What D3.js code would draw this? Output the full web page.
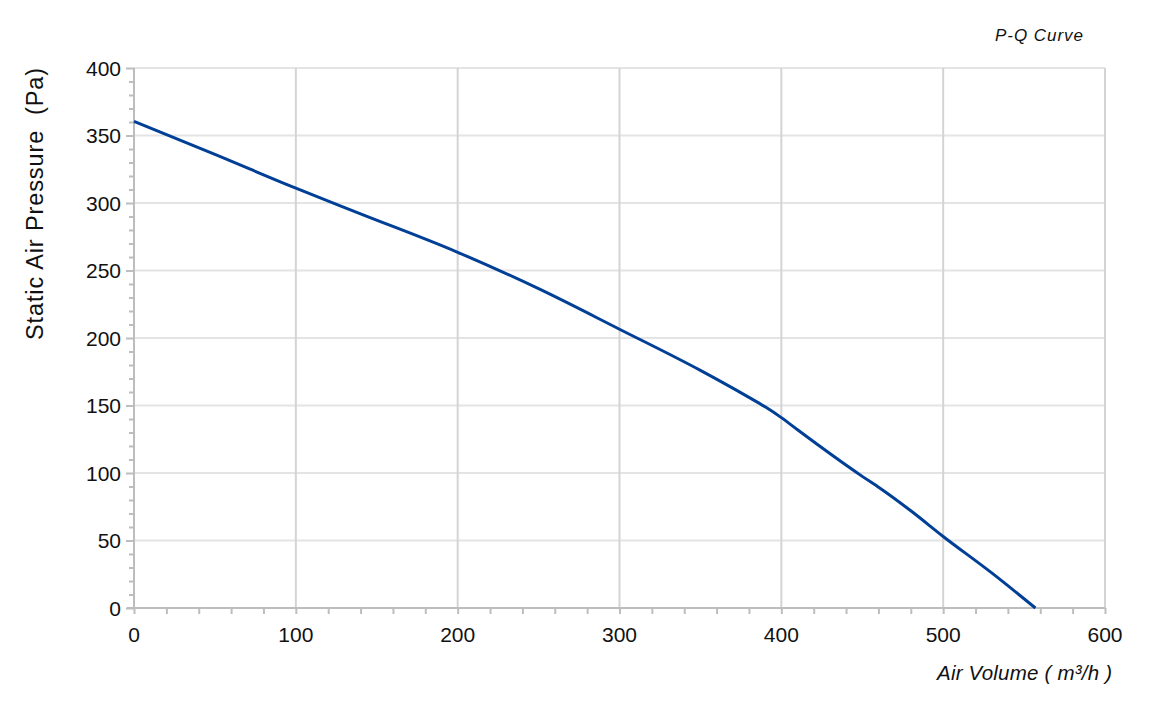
<!DOCTYPE html>
<html><head><meta charset="utf-8">
<script src="https://cdn.jsdelivr.net/npm/d3@7"></script>
<style>body{margin:0;background:#fff;} text{font-family:"Liberation Sans",Arial,sans-serif;}</style>
</head><body>
<svg id="c" width="1156" height="705"></svg>
<script>
const airVolume = [0, 50, 100, 140, 200, 250, 300, 350, 380, 390, 400, 410, 450, 461, 480, 500, 530, 557];
const pressure  = [360.5, 336, 311, 292, 263.5, 236.5, 206.5, 176, 156, 149, 141, 132, 97.5, 88.7, 72, 53, 26, 0];
const xTicks = [0, 100, 200, 300, 400, 500, 600];
const yTicks = [0, 50, 100, 150, 200, 250, 300, 350, 400];
const titleText = "P-Q Curve";
const xTitle = "Air Volume ( m³/h )";
const yTitle = "Static Air Pressure  (Pa)";

const svg = d3.select("#c");
const L = 134, R = 1105, T = 68, B = 608;
const x = d3.scaleLinear().domain([0, 600]).range([L, R]);
const y = d3.scaleLinear().domain([0, 400]).range([B, T]);

// horizontal gridlines
svg.append("g").selectAll("line").data(yTicks.filter(d => d > 0)).join("line")
  .attr("x1", L).attr("x2", R).attr("y1", d => y(d)).attr("y2", d => y(d))
  .attr("stroke", "#e4e4e4").attr("stroke-width", 2);
// vertical gridlines
svg.append("g").selectAll("line").data(xTicks.filter(d => d > 0)).join("line")
  .attr("x1", d => x(d)).attr("x2", d => x(d)).attr("y1", T).attr("y2", B)
  .attr("stroke", "#d4d4d4").attr("stroke-width", 2);

// x axis
const xAxis = svg.append("g").attr("transform", `translate(0,${B})`);
xAxis.call(d3.axisBottom(x).tickValues(d3.range(0, 601, 20)).tickSize(6).tickFormat(""))
  .call(g => g.select(".domain").remove())
  .call(g => g.selectAll("line").attr("stroke", "#bdbdbd").attr("stroke-width", 2));
xAxis.append("line").attr("x1", L - 7).attr("x2", R).attr("stroke", "#bdbdbd").attr("stroke-width", 2);
svg.append("g").selectAll("text").data(xTicks).join("text")
  .attr("x", d => x(d)).attr("y", 642).attr("text-anchor", "middle")
  .attr("font-size", 21).attr("fill", "#111").text(d => d);

// y axis
const yAxis = svg.append("g").attr("transform", `translate(${L},0)`);
yAxis.call(d3.axisLeft(y).tickValues(d3.range(0, 401, 10)).tickSize(5).tickFormat(""))
  .call(g => g.select(".domain").remove())
  .call(g => g.selectAll("line").attr("stroke", "#bdbdbd").attr("stroke-width", 2));
yAxis.selectAll(".tick").filter(d => d % 50 === 0).select("line").attr("x2", -8);
yAxis.append("line").attr("y1", T).attr("y2", B + 1).attr("stroke", "#bdbdbd").attr("stroke-width", 2);
svg.append("g").selectAll("text").data(yTicks).join("text")
  .attr("x", 121).attr("y", d => y(d) + 7.5).attr("text-anchor", "end")
  .attr("font-size", 21).attr("fill", "#111").text(d => d);

// curve
const pts = airVolume.map((q, i) => [q, pressure[i]]);
svg.append("path").datum(pts)
  .attr("d", d3.line().x(d => x(d[0])).y(d => y(d[1])).curve(d3.curveMonotoneX))
  .attr("fill", "none").attr("stroke", "#003f96").attr("stroke-width", 3);

// titles
svg.append("text").attr("x", 995).attr("y", 41)
  .attr("font-size", 17).attr("font-style", "italic").attr("fill", "#111")
  .attr("textLength", 88).attr("lengthAdjust", "spacing").text(titleText);
svg.append("text").attr("x", 937).attr("y", 680)
  .attr("font-size", 20.5).attr("font-style", "italic").attr("fill", "#111")
  .attr("textLength", 175).attr("lengthAdjust", "spacing").text(xTitle);
svg.append("text").attr("transform", "translate(43,340) rotate(-90)")
  .attr("font-size", 23.5).attr("fill", "#111").attr("xml:space", "preserve")
  .attr("textLength", 272).attr("lengthAdjust", "spacing").text(yTitle);
</script>
</body></html>
